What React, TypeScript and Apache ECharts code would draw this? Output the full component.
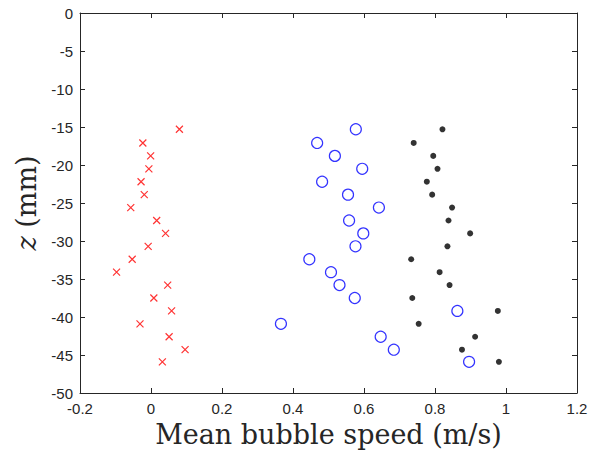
import React, { useEffect, useRef } from "react";
import * as echarts from "echarts";

const zLevels = [-15.3, -17.1, -18.8, -20.5, -22.2, -23.9, -25.6, -27.3, -29.0, -30.7, -32.4, -34.1, -35.8, -37.5, -39.2, -40.9, -42.6, -44.3, -45.9];
const redSpeeds = [0.080, -0.023, -0.001, -0.006, -0.028, -0.019, -0.057, 0.016, 0.041, -0.008, -0.053, -0.097, 0.047, 0.008, 0.058, -0.031, 0.051, 0.096, 0.032];
const blueSpeeds = [0.577, 0.468, 0.518, 0.595, 0.482, 0.555, 0.642, 0.558, 0.598, 0.576, 0.446, 0.507, 0.531, 0.574, 0.863, 0.366, 0.647, 0.684, 0.896];
const blackSpeeds = [0.821, 0.740, 0.795, 0.807, 0.777, 0.792, 0.848, 0.838, 0.899, 0.835, 0.733, 0.813, 0.841, 0.736, 0.977, 0.754, 0.913, 0.876, 0.980];

const axisColor = "#262626";
const tickFont = "'Liberation Sans', Arial, sans-serif";
const labelFont = "'DejaVu Serif', serif";

export default function App() {
  const ref = useRef<HTMLDivElement>(null);
  useEffect(() => {
    if (!ref.current) return;
    const chart = echarts.init(ref.current, null, { renderer: "svg" });
    const pair = (xs: number[]) => xs.map((x, i) => [x, zLevels[i]]);
    const commonLine = { show: true, onZero: false, lineStyle: { color: axisColor, width: 1 } };
    const commonTick = { show: true, inside: true, length: 5, lineStyle: { color: axisColor, width: 1 } };
    chart.setOption({
      animation: false,
      backgroundColor: "#ffffff",
      grid: { left: 80, top: 13, right: 20, bottom: 63, containLabel: false },
      xAxis: [
        {
          type: "value",
          min: -0.2,
          max: 1.2,
          interval: 0.2,
          position: "bottom",
          axisLine: commonLine,
          axisTick: commonTick,
          splitLine: { show: false },
          axisLabel: {
            color: axisColor,
            fontFamily: tickFont,
            fontSize: 15,
            margin: 8,
            formatter: (v: number) => String(Math.round(v * 10) / 10),
          },
          name: "Mean bubble speed (m/s)",
          nameLocation: "middle",
          nameGap: 28,
          nameTextStyle: { color: axisColor, fontFamily: labelFont, fontSize: 27 },
        },
        {
          type: "value",
          min: -0.2,
          max: 1.2,
          interval: 0.2,
          position: "top",
          axisLine: commonLine,
          axisTick: commonTick,
          splitLine: { show: false },
          axisLabel: { show: false },
        },
      ],
      yAxis: [
        {
          type: "value",
          min: -50,
          max: 0,
          interval: 5,
          position: "left",
          axisLine: commonLine,
          axisTick: commonTick,
          splitLine: { show: false },
          axisLabel: {
            color: axisColor,
            fontFamily: tickFont,
            fontSize: 15,
            margin: 7,
          },
          name: "{i|z} (mm)",
          nameLocation: "middle",
          nameGap: 38,
          nameRotate: 90,
          nameTextStyle: {
            color: axisColor,
            fontFamily: labelFont,
            fontSize: 27,
            rich: {
              i: { fontFamily: labelFont, fontStyle: "italic", fontSize: 27, color: axisColor },
            },
          },
        },
        {
          type: "value",
          min: -50,
          max: 0,
          interval: 5,
          position: "right",
          axisLine: commonLine,
          axisTick: commonTick,
          splitLine: { show: false },
          axisLabel: { show: false },
        },
      ],
      series: [
        {
          type: "scatter",
          data: pair(redSpeeds),
          symbol: "path://M0,0L10,10M10,0L0,10",
          symbolSize: 7,
          itemStyle: { color: "none", borderColor: "#ff0000", borderWidth: 1.2 },
        },
        {
          type: "scatter",
          data: pair(blueSpeeds),
          symbol: "circle",
          symbolSize: 11,
          itemStyle: { color: "none", borderColor: "#0000ff", borderWidth: 1.2 },
        },
        {
          type: "scatter",
          data: pair(blackSpeeds),
          symbol: "circle",
          symbolSize: 6,
          itemStyle: { color: "#000000" },
        },
      ],
    });
    return () => chart.dispose();
  }, []);
  return (
    <div
      ref={ref}
      style={{ position: "fixed", left: 0, top: 0, width: 597, height: 456, background: "#fff" }}
    />
  );
}
